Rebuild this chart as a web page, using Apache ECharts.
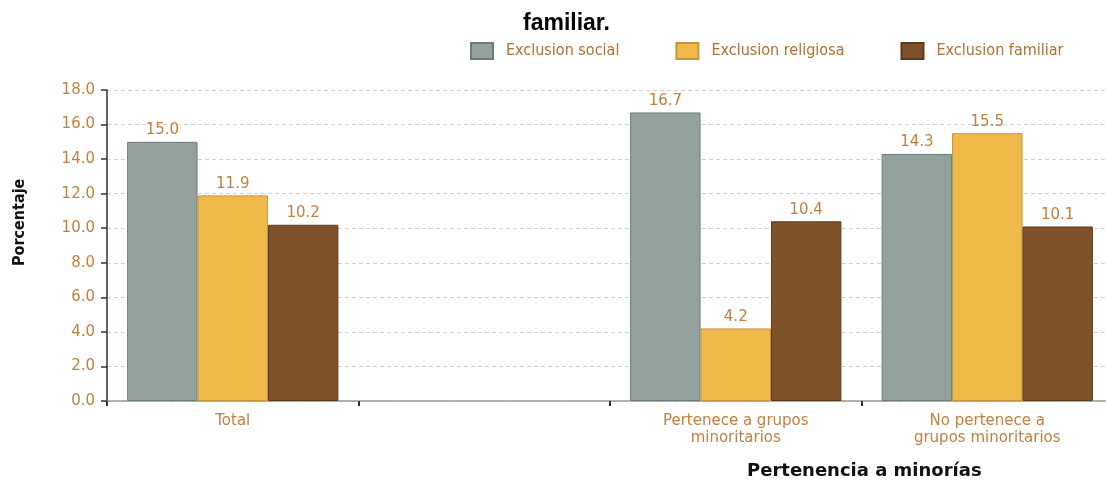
<!DOCTYPE html>
<html>
<head>
<meta charset="utf-8">
<script src="https://cdn.jsdelivr.net/npm/echarts@6/dist/echarts.min.js"></script>
<style>
  html, body { margin: 0; padding: 0; background: #ffffff; overflow: hidden; }
  #chart { width: 1113px; height: 483px; }
</style>
</head>
<body>
<div id="chart"></div>
<script>
// Categories on the x axis (the second slot is intentionally left blank)
const categories = ['Total', '', 'Pertenece a grupos\nminoritarios', 'No pertenece a\ngrupos minoritarios'];

// Percentages per exclusion type
const exclusionSocial    = [15.0, null, 16.7, 14.3];
const exclusionReligiosa = [11.9, null, 4.2, 15.5];
const exclusionFamiliar  = [10.2, null, 10.4, 10.1];

const seriesNames = ['Exclusion social', 'Exclusion religiosa', 'Exclusion familiar'];
const yTicks = { min: 0, max: 18, interval: 2 };

const labelColor = '#c27f3e';
const valueFont = 'DejaVu Sans, Verdana, sans-serif';
const narrowFont = '"Liberation Sans Narrow", "DejaVu Sans Condensed", "Noto Sans", sans-serif';

const chart = echarts.init(document.getElementById('chart'), null, { renderer: 'canvas' });

function barSeries(name, data, color, border) {
  return {
    name: name,
    type: 'bar',
    data: data,
    barGap: '0%',
    barCategoryGap: '16%',
    itemStyle: { color: color, borderColor: border, borderWidth: 1 },
    label: {
      show: true,
      position: 'top',
      distance: 4,
      color: labelColor,
      fontFamily: valueFont,
      fontSize: 15,
      formatter: p => (p.value == null ? '' : Number(p.value).toFixed(1))
    }
  };
}

chart.setOption({
  animation: false,
  backgroundColor: '#ffffff',
  title: {
    text: 'familiar.',
    left: 518,
    top: 7,
    textStyle: { fontFamily: '"Liberation Sans", Arial, sans-serif', fontWeight: 'bold', fontSize: 23, color: '#000000' }
  },
  legend: {
    data: seriesNames,
    left: 470,
    top: 42,
    padding: 0,
    itemWidth: 22,
    itemHeight: 16,
    itemGap: 56,
    icon: 'rect',
    textStyle: {
      fontFamily: narrowFont,
      fontSize: 16,
      color: '#b0702f',
      padding: [0, 0, 0, 8]
    }
  },
  grid: { left: 107, top: 90, bottom: 82, right: 0, containLabel: false },
  xAxis: {
    type: 'category',
    data: categories,
    axisLine: { lineStyle: { color: '#9a9a9a', width: 1.5 } },
    axisTick: { show: true, alignWithLabel: false, length: 5, lineStyle: { color: '#333333', width: 2 } },
    axisLabel: {
      color: labelColor,
      fontFamily: valueFont,
      fontSize: 15,
      lineHeight: 17,
      margin: 12,
      interval: 0
    },
    splitLine: { show: false }
  },
  yAxis: {
    type: 'value',
    min: yTicks.min,
    max: yTicks.max,
    interval: yTicks.interval,
    axisLine: { show: true, lineStyle: { color: '#333333', width: 1.5 } },
    axisTick: { show: true, length: 6, lineStyle: { color: '#333333', width: 1.5 } },
    axisLabel: {
      color: labelColor,
      fontFamily: valueFont,
      fontSize: 15,
      margin: 12,
      formatter: v => v.toFixed(1)
    },
    splitLine: { show: true, lineStyle: { color: '#d0d0d0', type: [4, 3], width: 1 } }
  },
  graphic: [
    {
      type: 'text',
      x: 12,
      y: 266,
      rotation: Math.PI / 2,
      style: {
        text: 'Porcentaje',
        font: 'bold 16px "Liberation Sans Narrow", "DejaVu Sans Condensed", sans-serif',
        fill: '#111111'
      }
    },
    {
      type: 'text',
      left: 747,
      top: 462,
      style: {
        text: 'Pertenencia a minorías',
        font: 'bold 18px "DejaVu Sans", Verdana, sans-serif',
        fill: '#111111'
      }
    }
  ],
  series: [
    barSeries(seriesNames[0], exclusionSocial, '#93a29f', '#6f7d7a'),
    barSeries(seriesNames[1], exclusionReligiosa, '#f0ba4b', '#c99437'),
    barSeries(seriesNames[2], exclusionFamiliar, '#7f512a', '#5c3a1c')
  ]
});
</script>
</body>
</html>
